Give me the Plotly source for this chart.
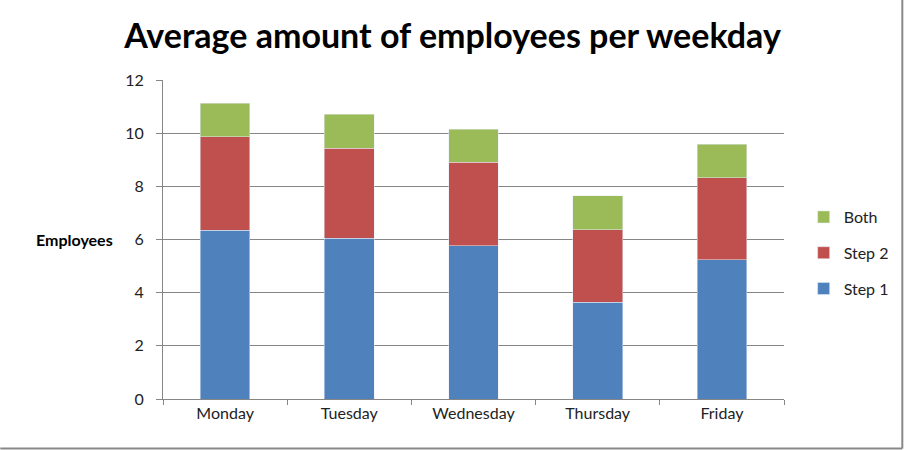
import plotly.graph_objects as go

days = ["Monday", "Tuesday", "Wednesday", "Thursday", "Friday"]
step1 = [6.34, 6.04, 5.76, 3.64, 5.23]
step2 = [3.53, 3.39, 3.14, 2.73, 3.10]
both = [1.25, 1.28, 1.24, 1.27, 1.25]
y_ticks = [0, 2, 4, 6, 8, 10, 12]

W, H = 905, 450
ml, mr, mt, mb = 163, 120, 80, 51
pw, ph = W - ml - mr, H - mt - mb


def py(pix):
    return (H - mb - pix) / ph


def px(pix):
    return (pix - ml) / pw


fig = go.Figure()
fig.add_bar(x=days, y=step1, name="Step 1", marker_color="#4F81BD", legendgroup="s1", legendrank=3)
fig.add_bar(x=days, y=step2, name="Step 2", marker_color="#C0504D", legendgroup="s2", legendrank=2)
fig.add_bar(x=days, y=both, name="Both", marker_color="#9BBB59", legendgroup="b", legendrank=1)

font_family = "Lato, 'Open Sans', sans-serif"
fig.update_layout(
    width=W, height=H,
    margin=dict(l=ml, r=mr, t=mt, b=mb),
    barmode="stack", bargap=0.6,
    paper_bgcolor="white", plot_bgcolor="white",
    font=dict(family=font_family, size=15, color="#222222"),
    title=dict(text="<b>Average amount of employees per weekday</b>",
               x=0.5, xanchor="center", xref="container", y=1 - 36 / H, yanchor="middle",
               font=dict(family=font_family, size=34, color="black")),
    legend=dict(x=1.03, xanchor="left", y=py(253), yanchor="middle",
                traceorder="grouped", font=dict(size=16), itemwidth=30,
                tracegroupgap=12),
    showlegend=True,
    xaxis=dict(showline=True, linecolor="#868686", ticks="outside", tickson="boundaries",
               ticklen=5, tickcolor="#868686", showgrid=False, tickfont=dict(size=16)),
    yaxis=dict(range=[0, 12], tickvals=y_ticks, showgrid=True, gridcolor="#868686",
               showline=True, linecolor="#868686", ticks="outside", ticklen=6,
               ticklabelstandoff=9,
               tickcolor="#868686", tickfont=dict(size=16), zeroline=False),
    shapes=[
        dict(type="line", xref="paper", yref="paper",
             x0=px(0), x1=px(W - 1.5), y0=py(H - 1.5), y1=py(H - 1.5),
             line=dict(color="#888888", width=2)),
        dict(type="line", xref="paper", yref="paper",
             x0=px(W - 1.5), x1=px(W - 1.5), y0=py(H - 1.5), y1=py(0),
             line=dict(color="#888888", width=2)),
    ],
    annotations=[dict(text="<b>Employees</b>", xref="paper", yref="paper",
                      x=px(115), xanchor="right", y=py(240),
                      yanchor="middle", showarrow=False, font=dict(size=16, color="black"))],
)
fig.write_html("out.html")
